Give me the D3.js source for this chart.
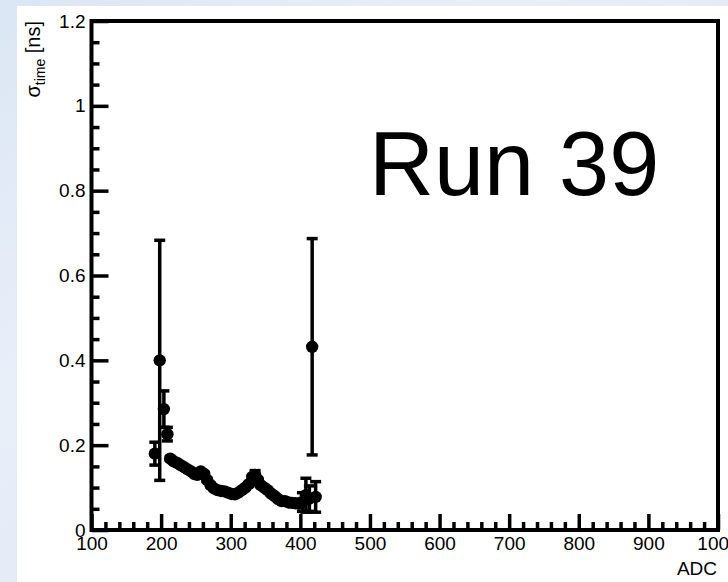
<!DOCTYPE html>
<html>
<head>
<meta charset="utf-8">
<script src="https://cdn.jsdelivr.net/npm/d3@7"></script>
<style>
	body { margin: 0; padding: 0; background: #ffffff; }
	svg { display: block; }
	.axis text { font-family: "Liberation Sans", Arial, Helvetica, sans-serif; font-size: 19px; fill: #000; }
</style>
</head>
<body>
<div id="chart"></div>
<script>
	'use strict';

	var adc = [191, 198, 204, 209, 213, 218, 223, 228, 233, 238, 243, 248, 252, 257, 262,
		266, 271, 276, 281, 286, 291, 296, 301, 306, 311, 316, 321, 326, 331, 335,
		339, 343, 348, 353, 358, 363, 368, 373, 378, 383, 388, 393, 398, 403, 408,
		413, 417, 422];
	var sigma = [0.180, 0.400, 0.285, 0.226, 0.168, 0.162, 0.158, 0.153, 0.148, 0.143, 0.138, 0.132, 0.130, 0.138, 0.132,
		0.118, 0.106, 0.098, 0.094, 0.092, 0.091, 0.088, 0.085, 0.084, 0.088, 0.094, 0.100, 0.108, 0.125, 0.130,
		0.118, 0.106, 0.100, 0.094, 0.086, 0.080, 0.073, 0.068, 0.068, 0.065, 0.064, 0.063, 0.062, 0.066, 0.082,
		0.074, 0.432, 0.078];
	var sigmaErr = [0.027, 0.283, 0.043, 0.016, 0.004, 0.004, 0.004, 0.004, 0.004, 0.004, 0.004, 0.004, 0.004, 0.004, 0.004,
		0.004, 0.004, 0.004, 0.004, 0.004, 0.004, 0.004, 0.004, 0.004, 0.004, 0.004, 0.004, 0.004, 0.004, 0.010,
		0.004, 0.004, 0.004, 0.004, 0.004, 0.004, 0.004, 0.004, 0.004, 0.004, 0.004, 0.004, 0.004, 0.022, 0.040,
		0.030, 0.255, 0.036];

	var xMajorTicks = [100, 200, 300, 400, 500, 600, 700, 800, 900, 1000];
	var yMajorTicks = [0, 0.2, 0.4, 0.6, 0.8, 1, 1.2];
	var xMinorStep = 20;
	var yMinorStep = 0.05;
	var runLabel = 'Run 39';

	var width = 728, height = 582;
	var frame = { left: 91.5, right: 718, top: 21, bottom: 530 };

	var svg = d3.select('#chart')
		.append('svg')
		.attr('width', width)
		.attr('height', height);

	// Light blue page background round the white canvas
	var defs = svg.append('defs');
	var grad = defs.append('linearGradient')
		.attr('id', 'bg')
		.attr('x1', 0).attr('y1', 0).attr('x2', 1).attr('y2', 1);
	grad.append('stop').attr('offset', '0%').attr('stop-color', '#dbe6f4');
	grad.append('stop').attr('offset', '35%').attr('stop-color', '#e9eff9');
	grad.append('stop').attr('offset', '65%').attr('stop-color', '#dfe8f5');
	grad.append('stop').attr('offset', '100%').attr('stop-color', '#ecf1f9');

	svg.append('rect')
		.attr('width', width).attr('height', height)
		.attr('fill', 'url(#bg)');

	svg.append('rect')
		.attr('x', 17).attr('y', 6)
		.attr('width', width - 17).attr('height', height - 6)
		.attr('fill', '#ffffff');

	var x = d3.scaleLinear().domain([100, 1000]).range([frame.left, frame.right]);
	var y = d3.scaleLinear().domain([0, 1.2]).range([frame.bottom, frame.top]);

	var xMinor = d3.range(100, 1000 + 1e-9, xMinorStep).filter(function(v) { return v % 100 !== 0; });
	var yMinor = d3.range(0, 1.2 + 1e-9, yMinorStep).filter(function(v) { return Math.abs(v / 0.2 - Math.round(v / 0.2)) > 1e-6; });

	// X axis: ticks point into the frame, minor and major in separate groups
	var gxMinor = svg.append('g')
		.attr('class', 'axis')
		.attr('transform', 'translate(0,' + frame.bottom + ')')
		.call(d3.axisBottom(x).tickValues(xMinor).tickSizeInner(-8).tickSizeOuter(0).tickFormat(''));
	var gx = svg.append('g')
		.attr('class', 'axis')
		.attr('transform', 'translate(0,' + frame.bottom + ')')
		.call(d3.axisBottom(x).tickValues(xMajorTicks).tickSizeInner(-16).tickSizeOuter(0).tickPadding(7).tickFormat(d3.format('d')));

	// Y axis
	var gyMinor = svg.append('g')
		.attr('class', 'axis')
		.attr('transform', 'translate(' + frame.left + ',0)')
		.call(d3.axisLeft(y).tickValues(yMinor).tickSizeInner(-8).tickSizeOuter(0).tickFormat(''));
	var gy = svg.append('g')
		.attr('class', 'axis')
		.attr('transform', 'translate(' + frame.left + ',0)')
		.call(d3.axisLeft(y).tickValues(yMajorTicks).tickSizeInner(-17).tickSizeOuter(0).tickPadding(6).tickFormat(d3.format('~g')));

	svg.selectAll('.axis .domain').remove();
	svg.selectAll('.axis line').attr('stroke', '#000').attr('stroke-width', 3.5);

	// Frame
	svg.append('rect')
		.attr('x', frame.left).attr('y', frame.top)
		.attr('width', frame.right - frame.left)
		.attr('height', frame.bottom - frame.top)
		.attr('fill', 'none')
		.attr('stroke', '#000')
		.attr('stroke-width', 4);

	// Axis titles
	svg.append('text')
		.attr('x', 717).attr('y', 575)
		.attr('text-anchor', 'end')
		.style('font-family', '"Liberation Sans", Arial, sans-serif')
		.style('font-size', '19px')
		.text('ADC');

	var yTitle = svg.append('text')
		.attr('transform', 'translate(40,21) rotate(-90)')
		.attr('text-anchor', 'end')
		.style('font-family', '"Liberation Sans", Arial, sans-serif')
		.style('font-size', '20px');
	yTitle.append('tspan').text('σ');
	yTitle.append('tspan').attr('dy', 5).style('font-size', '14px').text('time');
	yTitle.append('tspan').attr('dy', -5).text(' [ns]');

	// Data
	var points = adc.map(function(a, i) { return { x: a, y: sigma[i], e: sigmaErr[i] }; });
	var capHalf = 5.5;

	var bars = svg.append('g')
		.attr('stroke', '#000')
		.attr('stroke-width', 3.5);

	bars.selectAll('line.err')
		.data(points)
		.enter()
		.append('line')
		.attr('class', 'err')
		.attr('x1', function(d) { return x(d.x); })
		.attr('x2', function(d) { return x(d.x); })
		.attr('y1', function(d) { return y(d.y + d.e); })
		.attr('y2', function(d) { return y(d.y - d.e); });

	bars.selectAll('line.cap-hi')
		.data(points)
		.enter()
		.append('line')
		.attr('class', 'cap-hi')
		.attr('x1', function(d) { return x(d.x) - capHalf; })
		.attr('x2', function(d) { return x(d.x) + capHalf; })
		.attr('y1', function(d) { return y(d.y + d.e); })
		.attr('y2', function(d) { return y(d.y + d.e); });

	bars.selectAll('line.cap-lo')
		.data(points)
		.enter()
		.append('line')
		.attr('class', 'cap-lo')
		.attr('x1', function(d) { return x(d.x) - capHalf; })
		.attr('x2', function(d) { return x(d.x) + capHalf; })
		.attr('y1', function(d) { return y(d.y - d.e); })
		.attr('y2', function(d) { return y(d.y - d.e); });

	svg.append('g')
		.selectAll('circle')
		.data(points)
		.enter()
		.append('circle')
		.attr('cx', function(d) { return x(d.x); })
		.attr('cy', function(d) { return y(d.y); })
		.attr('r', 6.2)
		.attr('fill', '#000');

	// Run label
	svg.append('text')
		.attr('x', 369).attr('y', 195)
		.style('font-family', '"Liberation Sans", Arial, sans-serif')
		.style('font-size', '90px')
		.text(runLabel);
</script>
</body>
</html>
